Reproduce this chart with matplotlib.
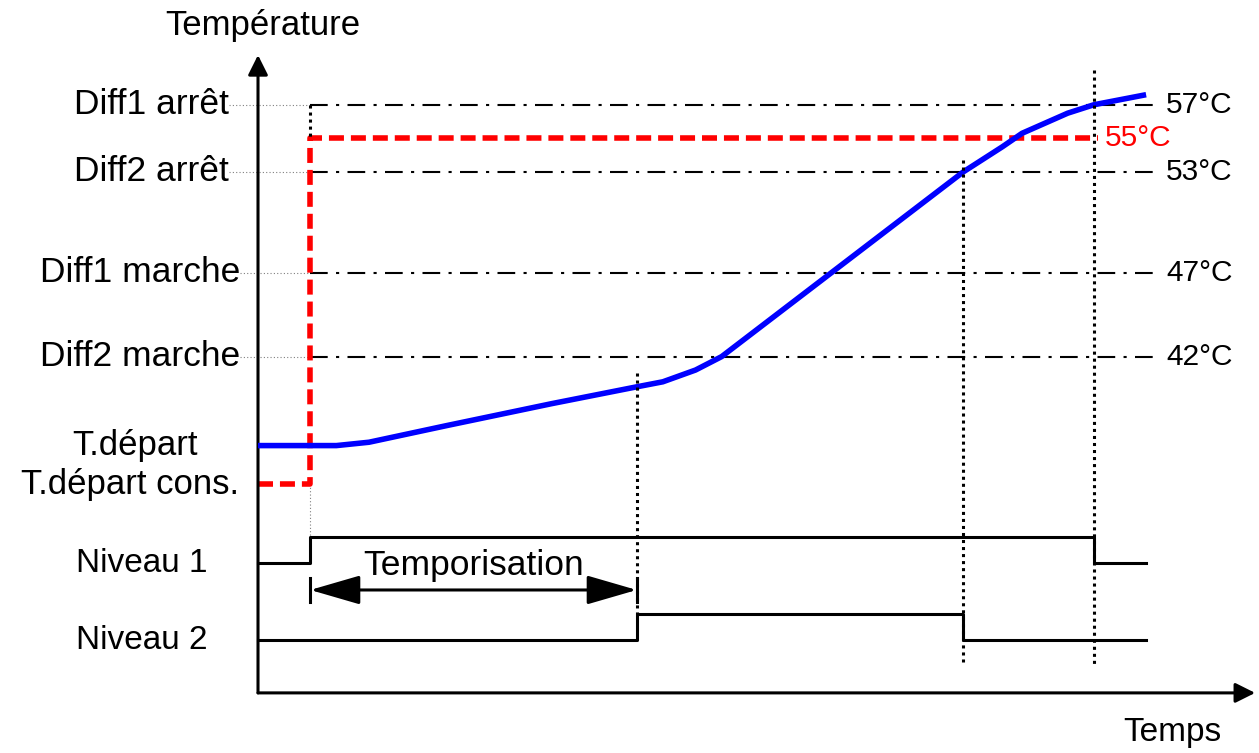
import matplotlib
matplotlib.use("Agg")
import matplotlib.pyplot as plt

plt.rcParams['font.family'] = ['Liberation Sans', 'DejaVu Sans']

# ---------------- DATA ----------------
level_labels = ["Diff1 arrêt", "Diff2 arrêt", "Diff1 marche", "Diff2 marche"]
level_temps = [57, 53, 47, 42]
level_texts = ["57°C", "53°C", "47°C", "42°C"]

setpoint_before = 34.4     # T.départ cons. before the request
setpoint_after = 55        # T.départ cons. after the request

# measured flow temperature (T.départ)
time = [0, 12, 17, 29, 45, 58, 62, 67, 71, 108, 114, 117, 124, 128, 136]
temp = [36.7, 36.7, 36.9, 37.9, 39.2, 40.2, 40.5, 41.2, 42.0, 53.0, 54.5, 55.3, 56.5, 57.0, 57.6]

t_start = 8        # request / Niveau 1 on
t_tempo = 58       # end of temporisation / Niveau 2 on
t_n2_off = 108     # Diff2 arrêt reached
t_n1_off = 128     # Diff1 arrêt reached
t_end = 136

niveau1_t = [0, t_start, t_n1_off, t_end]
niveau1_state = [0, 1, 0, 0]
niveau2_t = [0, t_tempo, t_n2_off, t_end]
niveau2_state = [0, 1, 0, 0]

# ---------------- LAYOUT ----------------
FS = 25.5        # left labels
FS_R = 21.5      # right values
FS_N = 24        # Niveau labels
ROW1, ROW2, ROW_H = 29.7, 25.1, 1.55
AXIS_Y = 21.97
ARROW_Y = 28.1

fig = plt.figure(figsize=(12.59, 7.53), dpi=100)
ax = fig.add_axes([0, 0, 1, 1])
ax.set_xlim(-39.51, 153.29)
ax.set_ylim(18.39, 63.24)
ax.axis("off")

# axes with arrows
ax.annotate("", xy=(0, 59.96), xytext=(0, AXIS_Y),
            arrowprops=dict(arrowstyle="-|>,head_length=12,head_width=6",
                            mutation_scale=1, lw=2.2, color="black",
                            shrinkA=0, shrinkB=0))
ax.annotate("", xy=(152.7, AXIS_Y), xytext=(0, AXIS_Y),
            arrowprops=dict(arrowstyle="-|>,head_length=12,head_width=6",
                            mutation_scale=1, lw=2.2, color="black",
                            shrinkA=0, shrinkB=0))
ax.text(0.77, 61.75, "Température", fontsize=25, ha="center", va="center")
ax.text(140, 19.6, "Temps", fontsize=24, ha="center", va="center")

# threshold levels
for lab, T, txt in zip(level_labels, level_temps, level_texts):
    xr = -4.44 if "arrêt" in lab else -2.76
    ax.text(xr, T, lab, fontsize=FS, ha="right", va="center")
    ax.plot([xr, t_start], [T, T], color="gray", lw=0.8,
            linestyle=(0, (1, 2)), zorder=1)
    ax.plot([t_start, t_end + 1.7], [T, T], color="black", lw=1.5,
            linestyle=(0, (8.5, 4, 1.5, 4)), zorder=1)
    ax.text(139.05, T, txt, fontsize=FS_R, ha="left", va="center")

# setpoint (red)
ax.plot([0, t_start, t_start, t_n1_off + 0.6],
        [setpoint_before, setpoint_before, setpoint_after, setpoint_after],
        color="#ff0000", lw=4.0, linestyle=(0, (2.7, 1.25)), zorder=2)
ax.text(129.7, setpoint_after, f"{setpoint_after}°C", fontsize=FS_R,
        color="#ff0000", ha="left", va="center")

# flow temperature (blue)
ax.plot(time, temp, color="#0000ff", lw=4.0, zorder=3, solid_capstyle="butt")

ax.text(-18.8, temp[0], "T.départ", fontsize=25, ha="center", va="center")
ax.text(-19.6, setpoint_before, "T.départ cons.", fontsize=25,
        ha="center", va="center")

# logic signals
n1 = [ROW1 + ROW_H * s for s in niveau1_state]
n2 = [ROW2 + ROW_H * s for s in niveau2_state]
ax.plot(niveau1_t, n1, drawstyle="steps-post", color="black", lw=2.2, zorder=3)
ax.plot(niveau2_t, n2, drawstyle="steps-post", color="black", lw=2.2, zorder=3)
ax.text(-17.84, ROW1, "Niveau 1", fontsize=FS_N, ha="center", va="center")
ax.text(-17.84, ROW2, "Niveau 2", fontsize=FS_N, ha="center", va="center")

# event markers
dot = (0, (1, 1.3))
ax.plot([t_start, t_start], [level_temps[0], setpoint_after], color="black",
        lw=2.2, linestyle=dot, zorder=4)
ax.plot([t_start, t_start], [setpoint_before, ROW1 + ROW_H], color="gray",
        lw=0.8, linestyle=(0, (1, 2)), zorder=1)
ax.plot([t_tempo, t_tempo], [temp[5] + 0.8, ROW2 + ROW_H], color="black",
        lw=2.2, linestyle=dot, zorder=4)
ax.plot([t_n2_off, t_n2_off], [level_temps[1] + 0.7, ROW2 - 1.3], color="black",
        lw=2.2, linestyle=dot, zorder=4)
ax.plot([t_n1_off, t_n1_off], [59.07, ROW2 - 1.6], color="black",
        lw=2.2, linestyle=dot, zorder=4)

# temporisation arrow
ax.annotate("", xy=(t_tempo, ARROW_Y), xytext=(t_start, ARROW_Y),
            arrowprops=dict(arrowstyle="<|-|>,head_length=31,head_width=9",
                            mutation_scale=1, lw=2.2, color="black",
                            shrinkA=0, shrinkB=0))
for t in (t_start, t_tempo):
    ax.plot([t, t], [ARROW_Y - 0.72, ARROW_Y + 0.72], color="black", lw=2.2)
ax.text((t_start + t_tempo) / 2, ROW1 - 0.15, "Temporisation", fontsize=FS,
        ha="center", va="center")

fig.savefig("out.png", dpi=100)
